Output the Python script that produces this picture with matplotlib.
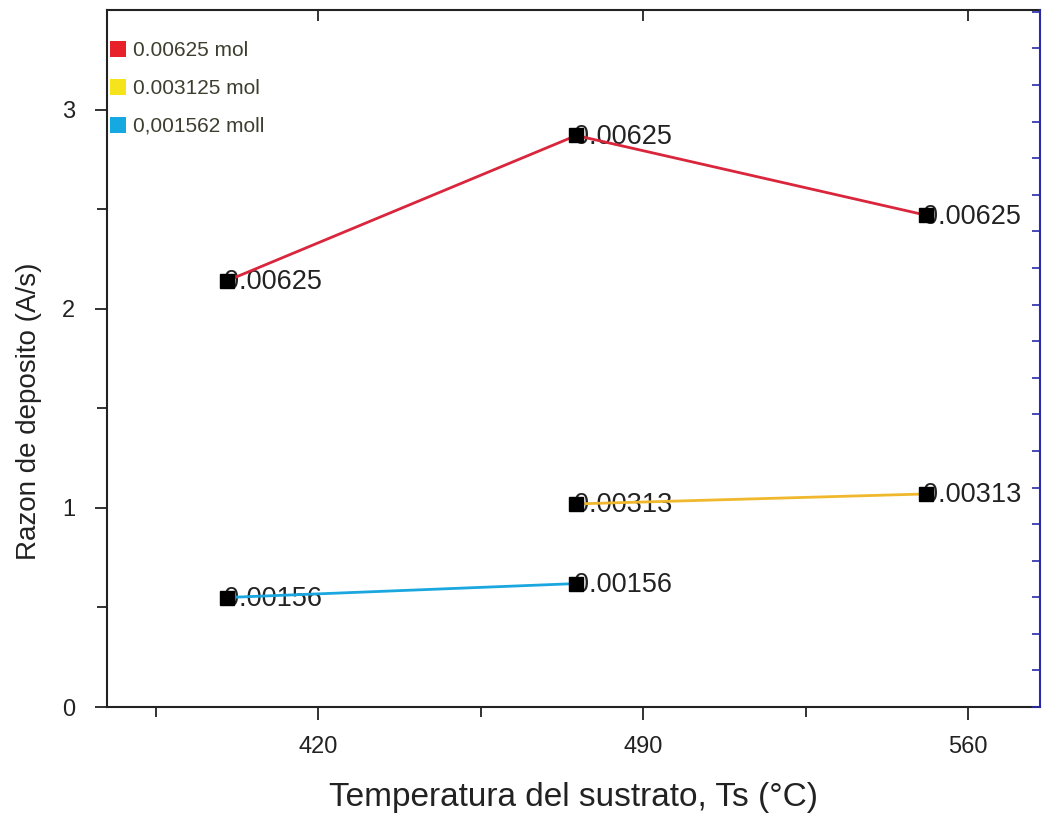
import matplotlib.pyplot as plt
from matplotlib.patches import Patch

# Data
temp_red = [400.3, 475.6, 550.9]
rate_red = [2.14, 2.87, 2.47]
temp_yellow = [475.6, 550.9]
rate_yellow = [1.02, 1.07]
temp_blue = [400.3, 475.6]
rate_blue = [0.55, 0.62]
point_labels = ["0.00625", "0.00313", "0.00156"]
legend_labels = ["0.00625 mol", "0.003125 mol", "0,001562 moll"]
line_colors = ["#d9263c", "#f0b82c", "#1aa6de"]
legend_colors = ["#e8202a", "#f5e41c", "#16a8e0"]
xticks = [420, 490, 560]

plt.rcParams['font.family'] = ['Liberation Sans', 'DejaVu Sans']

fig = plt.figure(figsize=(10.44, 8.14), dpi=100)
ax = fig.add_axes([0.1025, 0.1314, 0.8937, 0.8563])

series = [(temp_red, rate_red), (temp_yellow, rate_yellow), (temp_blue, rate_blue)]
for (xs, ys), c, lab in zip(series, line_colors, point_labels):
    ax.plot(xs, ys, color=c, lw=2, zorder=2)
    ax.plot(xs, ys, ls='none', marker='s', ms=10, color='black', zorder=3)
    for x, y in zip(xs, ys):
        ax.annotate(lab, (x, y), xytext=(-2, -1), textcoords='offset points',
                    ha='left', va='center', fontsize=19.5, color='#222222', zorder=1)

ax.set_xlim(374.5, 575.5)
ax.set_ylim(0, 3.50)
ax.set_xticks(xticks)
ax.set_xticks([385, 455, 525], minor=True)
ax.set_yticks([0, 1, 2, 3])
ax.set_yticks([0.5, 1.5, 2.5], minor=True)
ax.tick_params(axis='both', which='major', length=9, width=1.3, labelsize=17,
               colors='#222222')
ax.tick_params(axis='x', which='major', pad=12)
ax.tick_params(axis='y', which='major', pad=14)
ax.tick_params(axis='both', which='minor', length=7, width=1.3, colors='#222222')

for s in ['left', 'bottom', 'top']:
    ax.spines[s].set_color('#222222')
    ax.spines[s].set_linewidth(1.5)
ax.spines['right'].set_visible(False)

# top axis: inward ticks, no labels
ax3 = ax.twiny()
ax3.set_xlim(ax.get_xlim())
ax3.set_xticks(xticks)
ax3.tick_params(axis='x', direction='in', length=8, width=1.3, colors='#222222',
                labeltop=False)
for s in ax3.spines.values():
    s.set_visible(False)

# right axis: blue spine with many inward ticks
ax2 = ax.twinx()
ax2.set_ylim(0, 19.05)
ax2.set_yticks(range(0, 20))
ax2.tick_params(axis='y', direction='in', length=6, width=1.2, colors='#2a2aa8',
                labelright=False)
ax2.spines['right'].set_color('#2a2aa8')
ax2.spines['right'].set_linewidth(1.5)
for s in ['left', 'bottom', 'top']:
    ax2.spines[s].set_visible(False)

ax.set_xlabel('Temperatura del sustrato, Ts (°C)', fontsize=24, color='#222222')
ax.xaxis.set_label_coords(0.5, -0.108)
ax.set_ylabel('Razon de deposito (A/s)', fontsize=20, color='#222222')
ax.yaxis.set_label_coords(-0.07, 0.425)

handles = [Patch(facecolor=c, edgecolor='none') for c in legend_colors]
leg = ax.legend(handles, legend_labels, loc='upper left', bbox_to_anchor=(0.003, 0.956),
                frameon=False, handlelength=0.8, handleheight=0.8,
                handletextpad=0.3, labelspacing=0.9, borderaxespad=0, borderpad=0,
                prop={'family': ['Liberation Sans', 'DejaVu Sans'], 'size': 15})
for t in leg.get_texts():
    t.set_color('#3e3e30')

fig.savefig('out.png', dpi=100)
